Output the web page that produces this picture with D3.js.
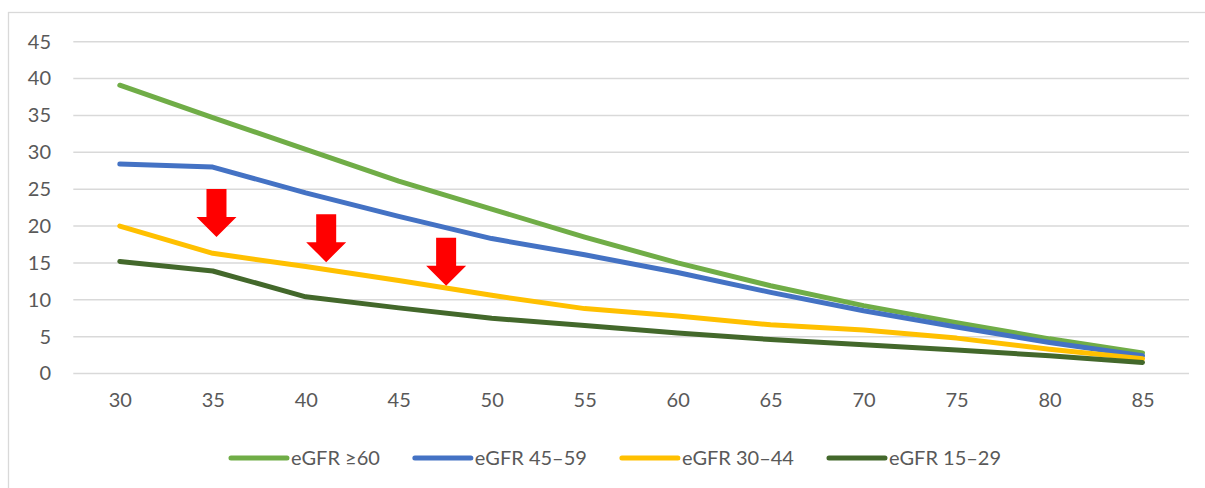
<!DOCTYPE html>
<html>
<head>
<meta charset="utf-8">
<script src="https://cdn.jsdelivr.net/npm/d3@7"></script>
<style>
  body { margin: 0; background: #fff; }
  svg { display: block; font-family: Lato, "Open Sans", sans-serif; }
</style>
</head>
<body>
<svg id="chart"></svg>
<script>
// ages on the x axis
var ages = [30, 35, 40, 45, 50, 55, 60, 65, 70, 75, 80, 85];

// series values
var egfr60 = [39.1, 34.7, 30.4, 26.1, 22.3, 18.5, 15.0, 11.9, 9.2, 6.9, 4.7, 2.8];
var egfr45 = [28.4, 28.0, 24.5, 21.3, 18.3, 16.1, 13.7, 11.0, 8.5, 6.3, 4.2, 2.4];
var egfr30 = [20.0, 16.3, 14.5, 12.6, 10.6, 8.8, 7.8, 6.6, 5.9, 4.8, 3.3, 2.0];
var egfr15 = [15.2, 13.9, 10.4, 8.9, 7.5, 6.5, 5.5, 4.6, 3.9, 3.2, 2.4, 1.5];

var seriesNames = ["eGFR ≥60", "eGFR 45–59", "eGFR 30–44", "eGFR 15–29"];
var seriesColors = ["#70ad47", "#4472c4", "#ffc000", "#43682b"];
var yTicks = [0, 5, 10, 15, 20, 25, 30, 35, 40, 45];

// red arrows: age and value where each tip points
var arrowAge = [35.2, 41.1, 47.55];
var arrowTip = [18.5, 15.1, 11.9];

var series = [egfr60, egfr45, egfr30, egfr15].map(function(vals, i) {
    return { name: seriesNames[i], color: seriesColors[i],
             values: vals.map(function(v, j) { return { age: ages[j], value: v }; }) };
});

var W = 1205, H = 488;
var svg = d3.select("#chart").attr("width", W).attr("height", H);

// outer chart border (right and bottom run past the picture)
svg.append("rect")
    .attr("x", 8.5).attr("y", 12.5)
    .attr("width", 1230).attr("height", 500)
    .attr("fill", "#fff")
    .attr("stroke", "#d9d9d9")
    .attr("stroke-width", 1.3);

var plotLeft = 73.3, plotRight = 1189;

var x = d3.scalePoint()
    .domain(ages)
    .range([plotLeft, plotRight])
    .padding(0.5);

var xAge = d3.scaleLinear()
    .domain([30, 85])
    .range([x(30), x(85)]);

var y = d3.scaleLinear()
    .domain([0, 45])
    .range([373.5, 41.7]);

// gridlines
svg.append("g")
    .selectAll("line")
    .data(yTicks)
    .enter().append("line")
    .attr("x1", plotLeft).attr("x2", plotRight)
    .attr("y1", function(d) { return y(d); })
    .attr("y2", function(d) { return y(d); })
    .attr("stroke", "#d9d9d9")
    .attr("stroke-width", 1.5);

// y axis labels
var yAxis = svg.append("g")
    .attr("transform", "translate(51,0)")
    .call(d3.axisLeft(y).tickValues(yTicks).tickSize(0).tickPadding(0));
yAxis.select(".domain").remove();
yAxis.selectAll("text")
    .attr("fill", "#595959")
    .style("font-size", "20px")
    .style("font-family", "Lato, sans-serif");

// x axis labels
var xAxis = svg.append("g")
    .attr("transform", "translate(0,393)")
    .call(d3.axisBottom(x).tickSize(0).tickPadding(0));
xAxis.select(".domain").remove();
xAxis.selectAll("text")
    .attr("fill", "#595959")
    .style("font-size", "20px")
    .style("font-family", "Lato, sans-serif");

// lines
var line = d3.line()
    .x(function(d) { return x(d.age); })
    .y(function(d) { return y(d.value); });

svg.append("g")
    .selectAll("path")
    .data(series)
    .enter().append("path")
    .attr("d", function(d) { return line(d.values); })
    .attr("fill", "none")
    .attr("stroke", function(d) { return d.color; })
    .attr("stroke-width", 5)
    .attr("stroke-linecap", "round")
    .attr("stroke-linejoin", "round");

// arrows
var shaftW = 10, headW = 20, headH = 20, arrowLen = 48;
svg.append("g")
    .selectAll("path")
    .data(arrowAge)
    .enter().append("path")
    .attr("d", function(d, i) {
        var tx = xAge(d), ty = y(arrowTip[i]);
        return "M" + (tx - shaftW) + "," + (ty - arrowLen) +
            "H" + (tx + shaftW) + "V" + (ty - headH) +
            "H" + (tx + headW) + "L" + tx + "," + ty +
            "L" + (tx - headW) + "," + (ty - headH) +
            "H" + (tx - shaftW) + "Z";
    })
    .attr("fill", "#ff0000");

// legend
var legend = svg.append("g").attr("transform", "translate(0,458)");
var items = legend.selectAll("g")
    .data(series)
    .enter().append("g");

items.append("line")
    .attr("x1", 0).attr("x2", 56)
    .attr("stroke", function(d) { return d.color; })
    .attr("stroke-width", 5)
    .attr("stroke-linecap", "round");

items.append("text")
    .attr("x", 60)
    .attr("dy", "0.35em")
    .attr("fill", "#595959")
    .style("font-size", "20px")
    .text(function(d) { return d.name; });

var pos = 0, offsets = [];
items.each(function() {
    offsets.push(pos);
    pos += 60 + d3.select(this).select("text").node().getComputedTextLength() + 35;
});
var legendW = pos - 35;
var legendStart = 616 - legendW / 2;
items.attr("transform", function(d, i) { return "translate(" + (legendStart + offsets[i]) + ",0)"; });
</script>
</body>
</html>
